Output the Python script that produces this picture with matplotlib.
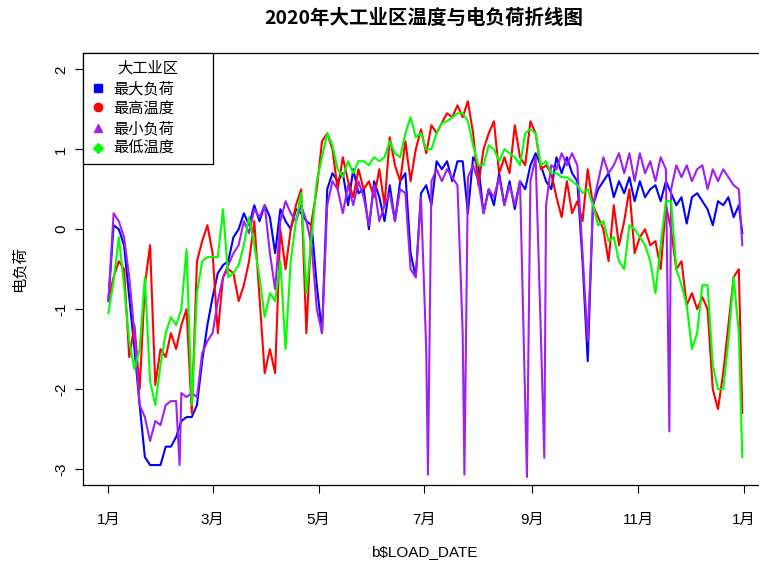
import pandas as pd
import matplotlib
matplotlib.use('Agg')
import matplotlib.pyplot as plt
from matplotlib.lines import Line2D

plt.rcParams['font.family'] = ['Liberation Sans', 'Noto Sans CJK SC']
plt.rcParams['axes.unicode_minus'] = False

# days after 2020-01-01, read every 3 days (plus Dec 31)
day_offsets = list(range(0, 364, 3)) + [365]

max_load = [-0.9, 0.05, 0.0, -0.2, -0.85, -1.5, -2.2, -2.85, -2.95, -2.95,
            -2.95, -2.72, -2.72, -2.6, -2.4, -2.35, -2.35, -2.2, -1.65, -1.2,
            -0.85, -0.55, -0.45, -0.4, -0.1, 0.0, 0.2, 0.05, 0.3, 0.1,
            0.3, 0.15, -0.3, 0.25, 0.1, 0.0, 0.25, 0.2, 0.1, 0.05,
            -0.7, -1.3, 0.5, 0.7, 0.6, 0.7, 0.3, 0.75, 0.45, 0.5,
            0.0, 0.6, 0.4, 0.1, 0.55, 0.1, 0.6, 0.7, -0.3, -0.6,
            0.45, 0.55, 0.3, 0.85, 0.75, 0.85, 0.6, 0.85, 0.85, 0.2,
            0.9, 0.8, 0.2, 0.5, 0.3, 0.7, 0.3, 0.6, 0.25, 0.6,
            0.5, 0.8, 0.95, 0.8, 0.6, 0.5, 0.9, 0.7, 0.9, 0.7,
            0.6, -0.4, -1.65, 0.3, 0.5, 0.6, 0.7, 0.4, 0.6, 0.45,
            0.65, 0.35, 0.6, 0.4, 0.5, 0.55, 0.35, 0.6, 0.45, 0.3,
            0.4, 0.07, 0.4, 0.45, 0.35, 0.25, 0.05, 0.35, 0.3, 0.4,
            0.15, 0.3, -0.05]

max_temp = [-0.88, -0.6, -0.4, -0.5, -1.6, -1.2, -2.0, -0.7, -0.2, -1.95,
            -1.5, -1.6, -1.3, -1.5, -1.2, -1.0, -2.3, -0.4, -0.15, 0.05,
            -0.3, -1.3, -0.6, -0.5, -0.55, -0.9, -0.7, -0.4, 0.1, -0.85,
            -1.8, -1.5, -1.8, 0.0, -0.5, 0.0, 0.3, 0.5, -1.3, 0.1,
            0.5, 1.1, 1.2, 1.0, 0.5, 0.9, 0.6, 0.4, 0.75, 0.5,
            0.6, 0.4, 0.75, 0.3, 1.15, 0.8, 0.6, 1.1, 0.6, 1.0,
            1.25, 0.95, 1.3, 1.2, 1.33, 1.45, 1.4, 1.55, 1.4, 1.6,
            1.2, 0.55, 1.0, 1.2, 1.35, 0.7, 0.9, 0.7, 1.3, 0.9,
            0.8, 1.35, 1.2, 0.75, 0.8, 0.7, 0.4, 0.15, 0.6, 0.2,
            0.35, 0.1, 0.75, 0.3, 0.15, 0.0, -0.4, 0.3, -0.2, 0.1,
            0.5, -0.3, -0.1, 0.0, -0.2, -0.15, -0.5, 0.3, 0.0, -0.5,
            -0.4, -0.95, -0.8, -1.0, -0.85, -1.0, -2.0, -2.25, -1.8, -1.2,
            -0.6, -0.5, -2.3]

min_load = [-0.9, 0.2, 0.1, -0.1, -0.6, -1.3, -2.2, -2.35, -2.65, -2.4,
            -2.45, -2.2, -2.15, -2.15, -2.05, -2.1, -2.05, -2.1, -1.55, -1.4,
            -1.3, -0.9, -0.6, -0.45, -0.3, -0.2, 0.1, -0.05, 0.25, 0.15,
            0.3, -0.3, -0.75, 0.1, 0.35, 0.2, 0.1, 0.3, 0.1, -0.2,
            -1.0, -1.3, 0.3, 0.6, 0.5, 0.2, 0.55, 0.3, 0.6, 0.4,
            0.05, 0.55, 0.1, 0.3, 0.45, 0.1, 0.5, 0.45, -0.5, -0.6,
            0.4, -1.5, 0.6, 0.75, 0.6, 0.75, 0.65, 0.55, -1.3, 0.65,
            0.8, 0.6, 0.2, 0.5, 0.4, 0.65, 0.3, 0.55, 0.3, 0.6,
            -2.2, 0.6, 0.9, -1.3, 0.3, 0.8, 0.75, 0.95, 0.8, 0.95,
            0.8, -0.3, -1.4, 0.3, 0.6, 0.9, 0.7, 0.8, 0.95, 0.7,
            0.95, 0.6, 0.95, 0.7, 0.85, 0.6, 0.9, 0.75, 0.5, 0.8,
            0.65, 0.8, 0.6, 0.75, 0.8, 0.5, 0.75, 0.6, 0.75, 0.65,
            0.55, 0.5, -0.2]

# one-day drops of the minimum load
min_load_drop_days = [41, 184, 205, 241, 251, 323]
min_load_drop_vals = [-2.95, -3.07, -3.07, -3.1, -2.86, -2.53]

min_temp = [-1.05, -0.65, -0.1, -0.7, -1.4, -1.75, -1.5, -0.6, -1.9, -2.2,
            -1.7, -1.3, -1.1, -1.2, -1.0, -0.25, -2.2, -0.8, -0.4, -0.35,
            -0.35, -0.35, 0.25, -0.6, -0.55, -0.45, -0.2, 0.15, -0.2, -0.6,
            -1.1, -0.8, -0.9, -0.4, -1.5, -0.4, 0.1, 0.45, -0.8, -0.1,
            0.6, 0.9, 1.2, 1.05, 0.75, 0.65, 0.85, 0.7, 0.85, 0.85,
            0.8, 0.9, 0.85, 0.9, 1.1, 0.95, 0.9, 1.2, 1.4, 1.15,
            1.2, 1.0, 1.0, 1.2, 1.33, 1.35, 1.4, 1.45, 1.45, 1.35,
            1.05, 0.8, 0.8, 1.05, 1.0, 0.85, 1.0, 0.95, 0.9, 0.8,
            1.2, 1.25, 1.2, 0.8, 0.85, 0.7, 0.7, 0.65, 0.65, 0.6,
            0.55, 0.45, 0.5, 0.3, 0.05, 0.1, -0.15, -0.1, -0.4, -0.5,
            0.05, 0.0, -0.1, -0.2, -0.4, -0.8, -0.2, 0.35, 0.35, -0.5,
            -0.7, -0.95, -1.5, -1.3, -0.7, -0.7, -1.7, -2.0, -2.0, -1.4,
            -0.6, -1.3, -2.85]

series_labels = ['最大负荷', '最高温度', '最小负荷', '最低温度']
month_ticks = ['2020-01-01', '2020-03-01', '2020-05-01', '2020-07-01',
               '2020-09-01', '2020-11-01', '2021-01-01']
month_labels = ['1月', '3月', '5月', '7月', '9月', '11月', '1月']

start = pd.Timestamp('2020-01-01')
dates = start + pd.to_timedelta(day_offsets, unit='D')
drops = pd.Series(min_load_drop_vals,
                  index=start + pd.to_timedelta(min_load_drop_days, unit='D'))
min_load_s = pd.concat([pd.Series(min_load, index=dates), drops]).sort_index()

colors = ['#0000FF', '#FF0000', '#A020F0', '#00FF00']

fig = plt.figure(figsize=(7.59, 5.63), dpi=100)
ax = fig.add_axes([0.1094, 0.1385, 0.902, 0.7668])

ax.plot(dates, max_load, color=colors[0], lw=1.5)
ax.plot(dates, max_temp, color=colors[1], lw=1.5)
ax.plot(min_load_s.index, min_load_s.values, color=colors[2], lw=1.5)
ax.plot(dates, min_temp, color=colors[3], lw=1.5)

ax.set_xlim(start - pd.Timedelta(days=14.6), start + pd.Timedelta(days=379.6))
ax.set_ylim(-3.2, 2.2)
ax.set_xticks(pd.to_datetime(month_ticks))
ax.set_xticklabels(month_labels)
ax.set_yticks([-3, -2, -1, 0, 1, 2])
ax.set_yticklabels(['-3', '-2', '-1', '0', '1', '2'], rotation=90, va='center')
ax.tick_params(axis='both', length=5.8, width=0.8, labelsize=11)
ax.tick_params(axis='x', pad=14)
ax.tick_params(axis='y', pad=5)
for sp in ax.spines.values():
    sp.set_linewidth(0.9)

ax.set_xlabel('b\\$LOAD_DATE', fontsize=11, va='center')
ax.xaxis.set_label_coords(0.498, -0.155)
ax.set_ylabel('电负荷', fontsize=11, va='center')
ax.yaxis.set_label_coords(-0.0935, 0.5)

fig.text(424 / 759, 1 - 18 / 563, '2020年大工业区温度与电负荷折线图',
         ha='center', va='center', fontsize=14, fontweight='bold',
         family='Noto Sans CJK SC')

markers = ['s', 'o', '^', 'D']
sizes = [6, 6, 6, 5]
handles = [Line2D([], [], ls='none', marker=m, color=c, markersize=s)
           for m, c, s in zip(markers, colors, sizes)]
leg = ax.legend(handles, series_labels, title='大工业区', loc='upper left',
                bbox_to_anchor=(0, 1, 130 / 684.6, 0), mode='expand',
                borderaxespad=0, fancybox=False, edgecolor='black',
                framealpha=1, fontsize=11, title_fontsize=11,
                handlelength=1, handletextpad=0.5, labelspacing=0.38,
                borderpad=0.5)
leg.get_frame().set_linewidth(0.9)

plt.savefig('out.png', dpi=100)
